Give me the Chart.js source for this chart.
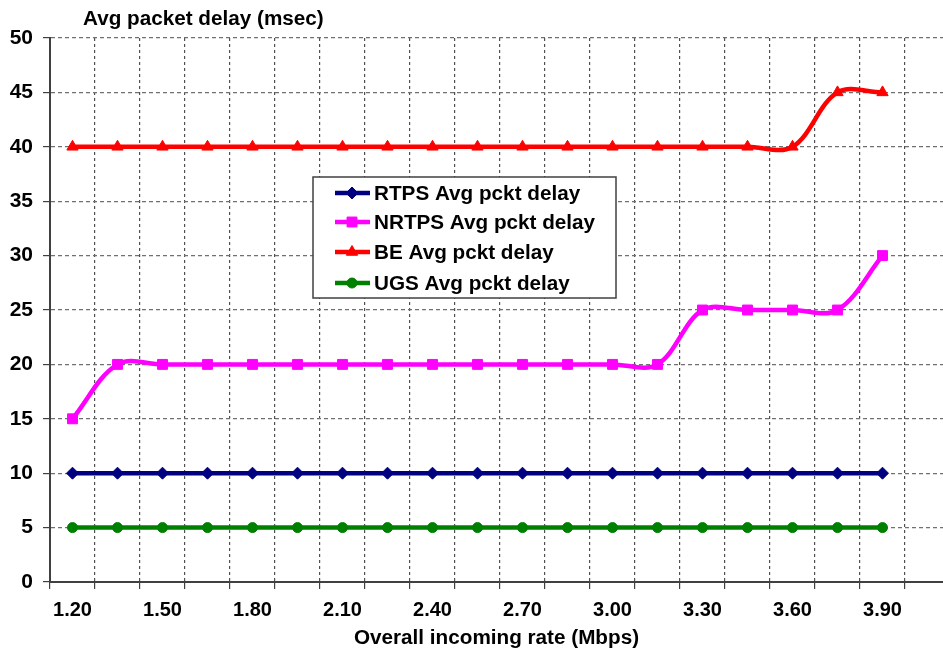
<!DOCTYPE html>
<html>
<head>
<meta charset="utf-8">
<script src="https://cdn.jsdelivr.net/npm/chart.js@4/dist/chart.umd.min.js"></script>
<style>
  html, body { margin: 0; padding: 0; background: #ffffff; overflow: hidden; }
  #wrap { position: relative; width: 943px; height: 657px; }
</style>
</head>
<body>
<div id="wrap"><canvas id="c" width="943" height="657"></canvas></div>
<script>
// ---- data ----
const categories = ['1.20','1.35','1.50','1.65','1.80','1.95','2.10','2.25','2.40','2.55',
                    '2.70','2.85','3.00','3.15','3.30','3.45','3.60','3.75','3.90'];
const xTickLabels = ['1.20','1.50','1.80','2.10','2.40','2.70','3.00','3.30','3.60','3.90'];
const yTickLabels = [0, 5, 10, 15, 20, 25, 30, 35, 40, 45, 50];
const rtps  = [10,10,10,10,10,10,10,10,10,10,10,10,10,10,10,10,10,10,10];
const nrtps = [15,20,20,20,20,20,20,20,20,20,20,20,20,20,25,25,25,25,30];
const be    = [40,40,40,40,40,40,40,40,40,40,40,40,40,40,40,40,40,45,45];
const ugs   = [5,5,5,5,5,5,5,5,5,5,5,5,5,5,5,5,5,5,5];
const seriesNames = ['RTPS Avg pckt delay','NRTPS Avg pckt delay','BE Avg pckt delay','UGS Avg pckt delay'];
const titleText = 'Avg packet delay (msec)';
const xTitleText = 'Overall incoming rate (Mbps)';

const FONT = "'Liberation Sans', Arial, sans-serif";
const step = 0.15;
const xMin = parseFloat(categories[0]) - step / 2;          // category boundary
const xMax = xMin + (893 / 45) * step;                       // plot runs to right edge

function pts(vals) { return vals.map((v, i) => ({ x: parseFloat(categories[i]), y: v })); }
function ds(label, vals, color, style, radius) {
  return {
    label, data: pts(vals),
    borderColor: color, backgroundColor: color,
    borderWidth: 4.5, tension: 0.35,
    pointStyle: style, pointRadius: radius, pointHoverRadius: radius,
    pointBorderWidth: 1, pointBorderColor: color, pointBackgroundColor: color,
    clip: false
  };
}

const labelSet = new Set(xTickLabels.map(s => Math.round(parseFloat(s) * 1000)));

const overlay = {
  id: 'overlay',
  afterDraw(chart) {
    const ctx = chart.ctx;
    ctx.save();
    // chart title over the value axis
    ctx.fillStyle = '#000';
    ctx.font = 'bold 20.7px ' + FONT;
    ctx.textBaseline = 'middle';
    ctx.textAlign = 'left';
    ctx.fillText(titleText, 83, 19);

    // legend box
    const bx = 313, by = 177, bw = 303, bh = 121;
    ctx.fillStyle = '#fff';
    ctx.fillRect(bx, by, bw, bh);
    ctx.strokeStyle = '#404040';
    ctx.lineWidth = 1.5;
    ctx.strokeRect(bx, by, bw, bh);
    const rows = [193, 222, 252, 283];
    chart.data.datasets.forEach((d, i) => {
      const y = rows[i];
      ctx.strokeStyle = d.borderColor;
      ctx.lineWidth = 4.5;
      ctx.beginPath();
      ctx.moveTo(335, y);
      ctx.lineTo(370, y);
      ctx.stroke();
      ctx.fillStyle = d.backgroundColor;
      ctx.strokeStyle = d.borderColor;
      ctx.lineWidth = 1;
      Chart.helpers.drawPoint(ctx, { pointStyle: d.pointStyle, radius: d.pointRadius, rotation: 0, borderWidth: 1 }, 352, y);
      ctx.fillStyle = '#000';
      ctx.font = 'bold 20.7px ' + FONT;
      ctx.textBaseline = 'middle';
      ctx.fillText(seriesNames[i], 374, y + 1);
    });
    ctx.restore();
  }
};

new Chart(document.getElementById('c'), {
  type: 'line',
  data: {
    datasets: [
      ds(seriesNames[0], rtps,  '#000080', 'rectRot', 6),
      ds(seriesNames[1], nrtps, '#ff00ff', 'rect', 7),
      ds(seriesNames[2], be,    '#ff0000', 'triangle', 6.5),
      ds(seriesNames[3], ugs,   '#008000', 'circle', 5)
    ]
  },
  options: {
    responsive: false,
    animation: false,
    events: [],
    layout: { autoPadding: false, padding: { top: 38, left: 0, right: 0, bottom: 0 } },
    plugins: { legend: { display: false }, title: { display: false }, tooltip: { enabled: false } },
    scales: {
      x: {
        type: 'linear',
        min: xMin, max: xMax,
        afterBuildTicks(scale) {
          const t = [];
          for (let v = xMin; v <= xMax + 1e-9; v += step) t.push({ value: v });
          xTickLabels.forEach(s => t.push({ value: parseFloat(s) }));
          t.sort((a, b) => a.value - b.value);
          scale.ticks = t;
        },
        afterFit(scale) { scale.height = 75; },
        ticks: {
          autoSkip: false, maxRotation: 0, minRotation: 0,
          padding: 9,
          color: '#000',
          font: { family: FONT, size: 20, weight: 'bold' },
          callback(value) {
            const k = Math.round(value * 1000);
            return labelSet.has(k) ? xTickLabels.find(s => Math.round(parseFloat(s) * 1000) === k) : '';
          }
        },
        grid: {
          drawOnChartArea: true, drawTicks: true, tickLength: 7,
          color(ctx) { return ctx.tick && labelSet.has(Math.round(ctx.tick.value * 1000)) ? 'rgba(0,0,0,0)' : '#505050'; },
          tickColor(ctx) { return ctx.tick && labelSet.has(Math.round(ctx.tick.value * 1000)) ? 'rgba(0,0,0,0)' : '#404040'; },
          lineWidth: 1.2,
          tickBorderDash: []
        },
        border: { display: true, color: '#404040', width: 2, dash: [3, 3] },
        title: {
          display: true, text: xTitleText, color: '#000',
          font: { family: FONT, size: 20.7, weight: 'bold' },
          padding: { top: 0, bottom: 6 }
        }
      },
      y: {
        type: 'linear',
        min: yTickLabels[0], max: yTickLabels[yTickLabels.length - 1],
        afterBuildTicks(scale) { scale.ticks = yTickLabels.map(v => ({ value: v })); },
        afterFit(scale) { scale.width = 50; },
        ticks: {
          padding: 10, color: '#000',
          font: { family: FONT, size: 21, weight: 'bold' },
          callback: v => String(v)
        },
        grid: {
          color: '#707070', lineWidth: 1.2, tickLength: 7, tickColor: '#404040', tickBorderDash: []
        },
        border: { display: true, color: '#404040', width: 2, dash: [4, 3] }
      }
    }
  },
  plugins: [overlay]
});
</script>
</body>
</html>
